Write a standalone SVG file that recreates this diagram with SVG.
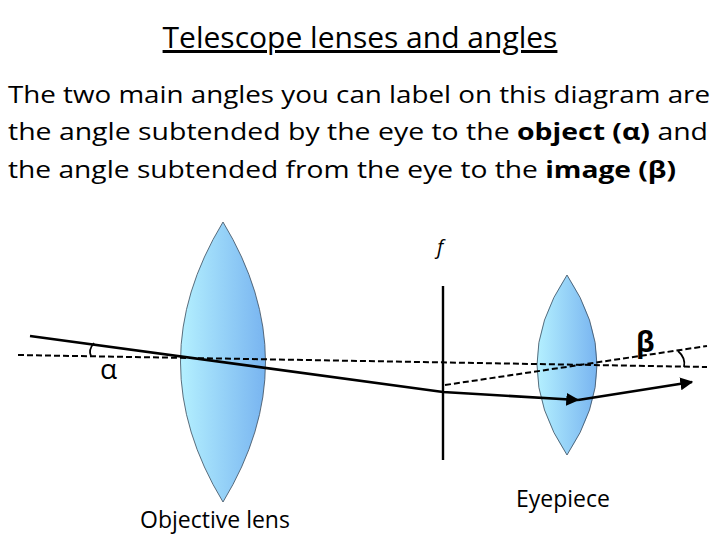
<svg xmlns="http://www.w3.org/2000/svg" width="720" height="540" viewBox="0 0 720 540">
<style>
text{font-family:"Open Sans","Liberation Sans",sans-serif;fill:#000}
.lens{fill:url(#g);stroke:#3a4a5a;stroke-width:0.8}
.ray{stroke:#000;stroke-width:2.6;fill:none}
.dash{stroke:#000;stroke-width:2;stroke-dasharray:6,3;fill:none}
</style>
<defs>
<linearGradient id="g" x1="0" x2="1" y1="0" y2="0">
<stop offset="0" stop-color="#b4f0ff"/><stop offset="1" stop-color="#78b4f0"/>
</linearGradient>
<marker id="ah" viewBox="0 0 10 10" refX="9" refY="5" markerWidth="5" markerHeight="5" orient="auto"><path d="M0,0L10,5L0,10z" fill="#000"/></marker>
</defs>
<text x="360" y="48" font-size="30" text-anchor="middle" text-decoration="underline">Telescope lenses and angles</text>
<text x="8" y="103" font-size="23" textLength="702" lengthAdjust="spacingAndGlyphs">The two main angles you can label on this diagram are</text>
<text x="8" y="140" font-size="23" textLength="700" lengthAdjust="spacingAndGlyphs">the angle subtended by the eye to the <tspan font-weight="bold">object (α)</tspan> and</text>
<text x="8" y="178" font-size="23" textLength="668" lengthAdjust="spacingAndGlyphs">the angle subtended from the eye to the <tspan font-weight="bold">image (β)</tspan></text>
<g id="objective"><path class="lens" d="M223,222 Q138,362 223,502 Q308,362 223,222Z"/>
<text x="215" y="528" font-size="23" text-anchor="middle">Objective lens</text></g>
<g id="eyepiece"><path class="lens" d="M567,275 Q507,365 567,455 Q627,365 567,275Z"/>
<text x="563" y="507" font-size="23" text-anchor="middle">Eyepiece</text></g>
<g id="focal"><line x1="443" y1="286" x2="443" y2="460" stroke="#000" stroke-width="2.4"/>
<text x="437" y="254" font-size="20" font-style="italic" font-family="Liberation Serif,serif">f</text></g>
<g id="connectors">
<line class="dash" x1="18" y1="355" x2="707" y2="367"/>
<line class="dash" x1="445" y1="385" x2="707" y2="346"/>
<polyline class="ray" points="30,336 443,392 578,400" marker-end="url(#ah)"/>
<line class="ray" x1="578" y1="400" x2="692" y2="382" marker-end="url(#ah)"/>
<path d="M94,343 Q88,350 91,356" stroke="#000" stroke-width="1.8" fill="none"/>
<path d="M678,351 Q686,358 684,367" stroke="#000" stroke-width="1.8" fill="none"/>
</g>
<text x="100" y="379" font-size="28">α</text>
<text x="636" y="352" font-size="28" font-weight="bold">β</text>
</svg>
